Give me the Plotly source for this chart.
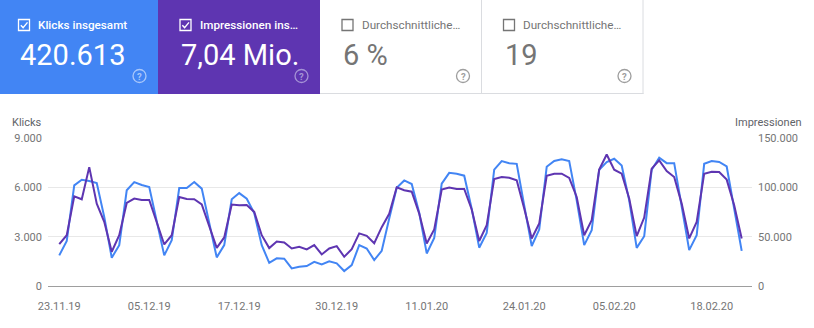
import pandas as pd
import plotly.graph_objects as go

# ---------------- data ----------------
start_date = "2019-11-23"
n_days = 92
dates = pd.date_range(start_date, periods=n_days, freq="D")

clicks = [
    1860, 2745, 6120, 6465, 6380, 6260, 4200, 1720, 2485, 5820,
    6320, 6140, 6020, 3900, 1860, 2790, 5960, 5960, 6320, 5920,
    3800, 1740, 2485, 5270, 5650, 5310, 4440, 2485, 1410, 1680,
    1660, 1070, 1170, 1210, 1470, 1310, 1500, 1380, 910, 1270,
    2485, 2280, 1575, 2140, 4100, 5980, 6420, 6200, 4450, 1980,
    2920, 6220, 6880, 6830, 6710, 4700, 2330, 3230, 7080, 7600,
    7470, 7430, 4900, 2430, 3430, 7250, 7600, 7700, 7600, 5210,
    2485, 3390, 7070, 7540, 7740, 7330, 5210, 2320, 3030, 7070,
    7800, 7470, 7470, 4810, 2180, 3090, 7430, 7600, 7540, 7270,
    4600, 2140,
]

impressions = [
    42400, 51500, 90900, 87900, 120500, 83500, 65000, 34700, 51500, 84200,
    88600, 87200, 87200, 65000, 42100, 51500, 90200, 88200, 87900, 82800,
    59900, 38700, 49200, 82500, 81800, 82200, 75100, 51500, 38400, 45100,
    44100, 38000, 39700, 37000, 41400, 32000, 38000, 40400, 29600, 37400,
    53300, 50800, 43400, 59600, 73200, 100000, 97000, 95600, 73400, 43100,
    57400, 97800, 99700, 98300, 98300, 77600, 45600, 61600, 108500, 110400,
    109700, 107100, 78500, 48200, 63300, 111600, 113800, 113800, 109500, 90200,
    51500, 66700, 117900, 133300, 117900, 113800, 88600, 50500, 69400, 118900,
    127300, 116500, 110400, 83500, 48200, 65000, 113800, 115800, 115500, 107800,
    81800, 48200,
]

x_tick_dates = ["2019-11-23", "2019-12-05", "2019-12-17", "2019-12-30",
                "2020-01-11", "2020-01-24", "2020-02-05", "2020-02-18"]
y_left_ticks = [0, 3000, 6000, 9000]
y_right_ticks = [0, 50000, 100000, 150000]

card_labels = ["Klicks insgesamt", "Impressionen ins…", "Durchschnittliche…", "Durchschnittliche…"]
card_values = ["420.613", "7,04 Mio.", "6 %", "19"]
card_checked = [True, True, False, False]

left_axis_title = "Klicks"
right_axis_title = "Impressionen"

# ---------------- styling ----------------
BLUE = "#4285f4"
PURPLE = "#5e35b1"
GRAY_TXT = "#757575"
FONT = "Roboto"

W_FIG, H_FIG = 814, 328
L, R, T, B = 48, 62, 138, 42
PW = W_FIG - L - R
PH = H_FIG - T - B
BOTTOM = H_FIG - B


def px(x):
    return (x - L) / PW


def py(y):
    return (BOTTOM - y) / PH


fig = go.Figure()
fig.add_trace(go.Scatter(x=dates, y=clicks, mode="lines", name="Klicks",
                         line=dict(color=BLUE, width=2), yaxis="y"))
fig.add_trace(go.Scatter(x=dates, y=impressions, mode="lines", name="Impressionen",
                         line=dict(color=PURPLE, width=2), yaxis="y2"))

shapes = []
annotations = []

# cards
card_x = [0, 158, 320, 481.5]
card_w = [158, 162, 161.5, 161.5]
card_bg = [BLUE, PURPLE, None, None]
icon_col = ["#a9c7fa", "#a593d6", "#9e9e9e", "#9e9e9e"]
for k in range(4):
    x0 = card_x[k]
    x1 = x0 + card_w[k]
    if card_bg[k]:
        shapes.append(dict(type="rect", xref="paper", yref="paper",
                           x0=px(x0), x1=px(x1), y0=py(94), y1=py(0),
                           fillcolor=card_bg[k], line=dict(width=0), layer="below"))
    txt_col = "white" if card_checked[k] else GRAY_TXT
    box_col = "white" if card_checked[k] else "#757575"
    bx = x0 + 18.5 if k == 0 else x0 + 22
    # checkbox
    shapes.append(dict(type="rect", xref="paper", yref="paper",
                       x0=px(bx), x1=px(bx + 11), y0=py(30.5), y1=py(19.5),
                       line=dict(color=box_col, width=1.3), fillcolor="rgba(0,0,0,0)"))
    if card_checked[k]:
        path = "M {},{} L {},{} L {},{}".format(
            px(bx + 2.3), py(25.3), px(bx + 4.6), py(27.6), px(bx + 9.0), py(22.4))
        shapes.append(dict(type="path", xref="paper", yref="paper", path=path,
                           line=dict(color="white", width=1.4)))
    annotations.append(dict(xref="paper", yref="paper", x=px(bx + 17.5), y=py(25),
                            xanchor="left", yanchor="middle", showarrow=False,
                            text=card_labels[k],
                            font=dict(family=FONT, size=11.7, color=txt_col,
                                      weight=500 if card_checked[k] else 400)))
    annotations.append(dict(xref="paper", yref="paper", x=px(bx - 1), y=py(55),
                            xanchor="left", yanchor="middle", showarrow=False,
                            text=card_values[k],
                            font=dict(family=FONT, size=29, color=txt_col)))
    # help icon
    cx = x1 - 18.5
    cy = 76
    shapes.append(dict(type="circle", xref="paper", yref="paper",
                       x0=px(cx - 6.5), x1=px(cx + 6.5), y0=py(cy + 6.5), y1=py(cy - 6.5),
                       line=dict(color=icon_col[k], width=1.3)))
    annotations.append(dict(xref="paper", yref="paper", x=px(cx), y=py(cy),
                            xanchor="center", yanchor="middle", showarrow=False,
                            text="?", font=dict(family=FONT, size=9.5, color=icon_col[k],
                                                weight=700)))

# borders of white cards
border = "#dadce0"
for xv in (481.5, 643):
    shapes.append(dict(type="line", xref="paper", yref="paper",
                       x0=px(xv), x1=px(xv), y0=py(0), y1=py(94), line=dict(color=border, width=1)))
shapes.append(dict(type="line", xref="paper", yref="paper",
                   x0=px(320), x1=px(643.5), y0=py(93.5), y1=py(93.5), line=dict(color=border, width=1)))

# axis titles
annotations.append(dict(xref="paper", yref="paper", x=px(10), y=py(122), xanchor="left",
                        yanchor="middle", showarrow=False, text=left_axis_title,
                        font=dict(family=FONT, size=11, color="#5f6368")))
annotations.append(dict(xref="paper", yref="paper", x=px(804), y=py(122), xanchor="right",
                        yanchor="middle", showarrow=False, text=right_axis_title,
                        font=dict(family=FONT, size=11, color="#5f6368")))

x_start = pd.Timestamp(start_date) - pd.Timedelta(hours=36)
x_end = pd.Timestamp(start_date) + pd.Timedelta(hours=int(92.4 * 24))

fig.update_layout(
    width=W_FIG, height=H_FIG,
    margin=dict(l=L, r=R, t=T, b=B, pad=0),
    paper_bgcolor="white", plot_bgcolor="white",
    separators=",.",
    showlegend=False,
    font=dict(family=FONT, size=11, color=GRAY_TXT),
    shapes=shapes,
    annotations=annotations,
    xaxis=dict(range=[x_start, x_end], tickvals=x_tick_dates, tickformat="%d.%m.%y",
               showgrid=False, showline=True, linecolor="#9e9e9e", linewidth=1,
               ticks="", ticklabelstandoff=10, tickfont=dict(size=11, color=GRAY_TXT),
               zeroline=False),
    yaxis=dict(range=[0, 9000], tickvals=y_left_ticks, tickformat=",d",
               showgrid=True, gridcolor="#e8e8e8", gridwidth=1, zeroline=False,
               ticks="", ticklabelstandoff=5, tickfont=dict(size=11, color=GRAY_TXT)),
    yaxis2=dict(range=[0, 150000], tickvals=y_right_ticks, tickformat=",d",
                overlaying="y", side="right", showgrid=False, zeroline=False,
                ticks="", ticklabelstandoff=5, tickfont=dict(size=11, color=GRAY_TXT)),
)

fig.write_html("out.html")
